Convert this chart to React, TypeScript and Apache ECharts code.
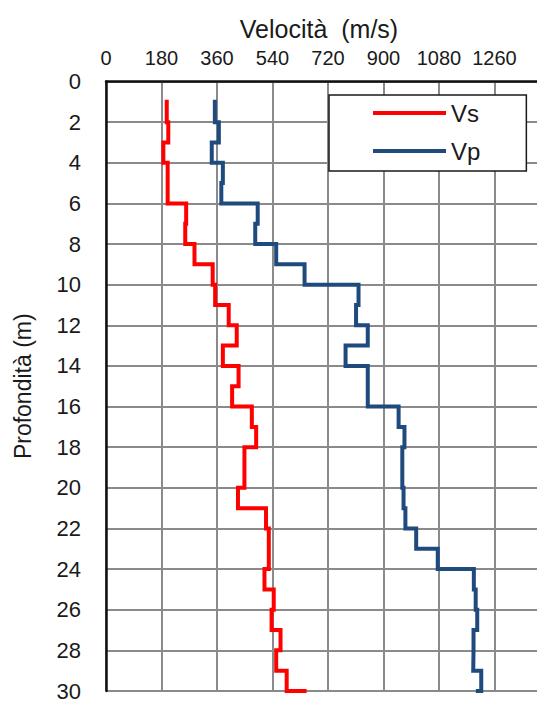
import React, { useEffect, useRef } from "react";
import * as echarts from "echarts";

// Layer boundaries (depth, m)
const depthBounds = [0.9, 2, 3, 4, 5, 6, 7, 8, 9, 10, 11, 12, 13, 14, 15, 16, 17, 18, 19, 20, 21, 22, 23, 24, 25, 26, 27, 28, 29, 30, 30.3];
// Velocities per layer (m/s)
const vsValues = [197, 202, 186, 200, 200, 260, 257, 287, 346, 354, 398, 424, 379, 430, 409, 473, 487, 449, 449, 428, 519, 528, 528, 514, 544, 537, 566, 552, 586, 644];
const vpValues = [353, 366, 343, 379, 374, 492, 484, 552, 644, 819, 811, 849, 777, 849, 849, 949, 968, 961, 961, 965, 971, 1006, 1076, 1193, 1199, 1204, 1192, 1191, 1217, 1206];
const xTicks = [0, 180, 360, 540, 720, 900, 1080, 1260, 1440];
const seriesNames = ["Vs", "Vp"];

function stepPoints(values: number[]) {
  const pts: number[][] = [];
  values.forEach((v, i) => {
    pts.push([v, depthBounds[i]]);
    pts.push([v, depthBounds[i + 1]]);
  });
  return pts;
}

export default function App() {
  const ref = useRef<HTMLDivElement>(null);
  useEffect(() => {
    if (!ref.current) return;
    const chart = echarts.init(ref.current, null, { renderer: "svg" });
    const font = "Liberation Sans, Arial, sans-serif";
    chart.setOption({
      animation: false,
      backgroundColor: "#fff",
      title: {
        text: "Velocità  (m/s)",
        left: 314,
        top: 11,
        textAlign: "center",
        textStyle: { fontFamily: font, fontSize: 25, fontWeight: "normal", color: "#1a1a1a" },
      },
      grid: { left: 106, top: 81.5, right: 10, bottom: 8, containLabel: false },
      legend: {
        data: seriesNames,
        orient: "vertical",
        left: 329,
        top: 95,
        padding: [6, 46, 8, 44],
        icon: "rect",
        itemWidth: 73,
        itemHeight: 4,
        itemGap: 14,
        backgroundColor: "#fff",
        borderColor: "#1a1a1a",
        borderWidth: 1.5,
        borderRadius: 0,
        textStyle: { fontFamily: font, fontSize: 24, color: "#1a1a1a", lineHeight: 24 },
      },
      xAxis: {
        type: "value",
        position: "top",
        min: xTicks[0],
        max: xTicks[xTicks.length - 1],
        interval: 180,
        axisLine: { show: true, onZero: false, lineStyle: { color: "#111", width: 2.5 } },
        axisTick: { show: false },
        axisLabel: {
          fontFamily: font,
          fontSize: 20,
          color: "#1a1a1a",
          margin: 14,
          showMaxLabel: false,
          formatter: (v: number) => String(v),
        },
        splitLine: { show: true, lineStyle: { color: "#8a8a8a", width: 2 } },
      },
      yAxis: {
        type: "value",
        inverse: true,
        min: 0,
        max: 30,
        interval: 2,
        name: "Profondità (m)",
        nameLocation: "middle",
        nameGap: 72,
        nameRotate: 90,
        nameTextStyle: { fontFamily: font, fontSize: 23, color: "#1a1a1a" },
        axisLine: { show: true, onZero: false, lineStyle: { color: "#111", width: 2.5 } },
        axisTick: { show: false },
        axisLabel: { fontFamily: font, fontSize: 22, color: "#1a1a1a", margin: 25 },
        splitLine: { show: true, lineStyle: { color: "#8a8a8a", width: 2 } },
      },
      series: [
        {
          name: seriesNames[0],
          type: "line",
          data: stepPoints(vsValues),
          symbol: "none",
          showSymbol: false,
          lineStyle: { color: "#ff0000", width: 4, join: "miter", cap: "butt" },
          itemStyle: { color: "#ff0000" },
          z: 3,
        },
        {
          name: seriesNames[1],
          type: "line",
          data: stepPoints(vpValues),
          symbol: "none",
          showSymbol: false,
          lineStyle: { color: "#1f4a7e", width: 4, join: "miter", cap: "butt" },
          itemStyle: { color: "#1f4a7e" },
          z: 3,
        },
      ],
    });
    return () => chart.dispose();
  }, []);
  return (
    <div style={{ position: "absolute", left: 0, top: 0, width: 537, height: 702, overflow: "hidden", background: "#fff" }}>
      <div ref={ref} style={{ width: 560, height: 702 }} />
    </div>
  );
}
